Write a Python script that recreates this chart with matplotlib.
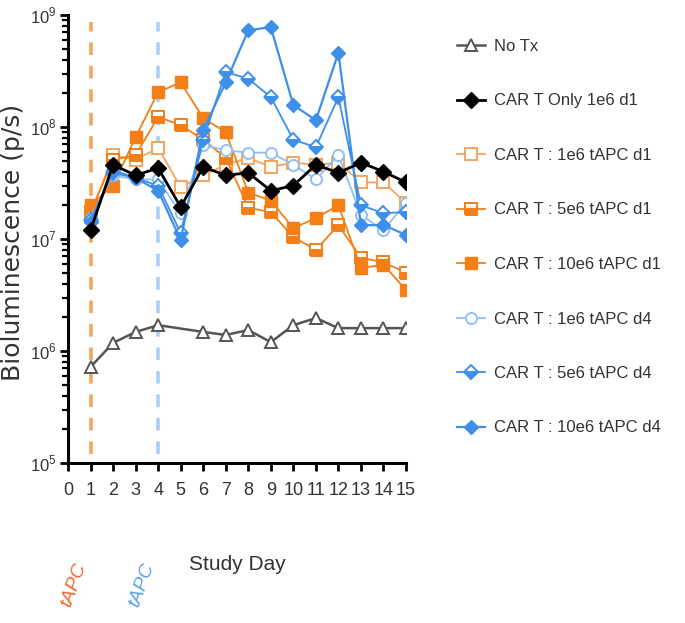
import matplotlib
matplotlib.use("Agg")
import matplotlib.pyplot as plt
import numpy as np
from matplotlib.ticker import LogLocator, NullFormatter

# ---------------- data ----------------
days = [1, 2, 3, 4, 5, 6, 7, 8, 9, 10, 11, 12, 13, 14, 15]
days_notx = [1, 2, 3, 4, 6, 7, 8, 9, 10, 11, 12, 13, 14, 15]

no_tx = [7.2e5, 1.18e6, 1.48e6, 1.7e6, 1.48e6, 1.39e6, 1.54e6, 1.2e6,
         1.7e6, 1.97e6, 1.6e6, 1.6e6, 1.6e6, 1.6e6]
cart_only = [1.2e7, 4.6e7, 3.7e7, 4.3e7, 1.93e7, 4.4e7, 3.7e7, 3.9e7,
             2.7e7, 3.0e7, 4.6e7, 3.9e7, 4.8e7, 4.0e7, 3.2e7]
tapc1_d1 = [1.64e7, 5.6e7, 5.1e7, 6.5e7, 2.9e7, 3.7e7, 4.6e7, 5.3e7,
            4.4e7, 4.8e7, 4.6e7, 4.8e7, 3.2e7, 3.2e7, 2.1e7]
tapc5_d1 = [1.74e7, 5.1e7, 5.6e7, 1.23e8, 1.04e8, 7.7e7, 5.3e7, 1.9e7,
            1.74e7, 1.04e7, 8.0e6, 1.33e7, 6.8e6, 6.2e6, 5.0e6]
tapc10_d1 = [2.0e7, 3.0e7, 8.1e7, 2.05e8, 2.5e8, 1.2e8, 9.0e7, 2.6e7,
             2.2e7, 1.25e7, 1.54e7, 2.0e7, 5.5e6, 5.9e6, 3.5e6]
tapc1_d4 = [1.54e7, 3.7e7, 3.4e7, 3.4e7, 1.7e7, 6.9e7, 6.2e7, 5.9e7,
            5.9e7, 4.6e7, 3.4e7, 5.6e7, 1.64e7, 1.2e7, 2.1e7]
tapc5_d4 = [1.48e7, 3.9e7, 3.5e7, 3.0e7, 1.13e7, 7.7e7, 3.1e8, 2.7e8,
            1.85e8, 7.7e7, 6.6e7, 1.85e8, 2.0e7, 1.7e7, 1.74e7]
tapc10_d4 = [1.42e7, 4.1e7, 3.5e7, 2.7e7, 9.8e6, 9.4e7, 2.5e8, 7.3e8,
             7.8e8, 1.57e8, 1.15e8, 4.6e8, 1.33e7, 1.33e7, 1.09e7]

labels = ["No Tx", "CAR T Only 1e6 d1", "CAR T : 1e6 tAPC d1",
          "CAR T : 5e6 tAPC d1", "CAR T : 10e6 tAPC d1",
          "CAR T : 1e6 tAPC d4", "CAR T : 5e6 tAPC d4", "CAR T : 10e6 tAPC d4"]
xticks = list(range(0, 16))
ytick_vals = [1e5, 1e6, 1e7, 1e8, 1e9]
tapc_days = [1, 4]

# ---------------- style ----------------
plt.rcParams["font.family"] = ["Liberation Sans", "DejaVu Sans"]
plt.rcParams["mathtext.fontset"] = "custom"
plt.rcParams["mathtext.rm"] = "Liberation Sans"

ORANGE = "#f57f17"
LORANGE = "#f6a35e"
BLUE = "#3d8fea"
LBLUE = "#8fc0f5"
GRAY = "#555555"
TXT = "#333333"

fig = plt.figure(figsize=(6.85, 6.23), dpi=100)
ax = fig.add_axes([68 / 685, 1 - 463 / 623, 338 / 685, 448 / 623])

ax.axvline(tapc_days[0], ymin=0.02, ymax=0.985, color="#f5a560", lw=2.6,
           ls=(0, (3.5, 3)), zorder=1)
ax.axvline(tapc_days[1], ymin=0.02, ymax=0.985, color="#a8d0f7", lw=2.6,
           ls=(0, (3.5, 3)), zorder=1)

handles = []
ms = 8
h, = ax.plot(days_notx, no_tx, color=GRAY, lw=1.8, marker="^", ms=ms,
             mfc="white", mec=GRAY, mew=1.4, zorder=3)
handles.append(h)
h, = ax.plot(days, cart_only, color="black", lw=2.0, marker="D", ms=ms,
             mfc="black", mec="black", zorder=6)
handles.append(h)
h, = ax.plot(days, tapc1_d1, color=LORANGE, lw=1.3, marker="s", ms=ms,
             mfc="white", mec=LORANGE, mew=1.4, zorder=4)
handles.append(h)
h, = ax.plot(days, tapc5_d1, color=ORANGE, lw=1.3, marker="s", ms=ms,
             fillstyle="bottom", mfc=ORANGE, mfcalt="white", mec=ORANGE,
             mew=1.4, zorder=4)
handles.append(h)
h, = ax.plot(days, tapc10_d1, color=ORANGE, lw=1.3, marker="s", ms=ms,
             mfc=ORANGE, mec=ORANGE, zorder=4)
handles.append(h)
h, = ax.plot(days, tapc1_d4, color=LBLUE, lw=1.3, marker="o", ms=ms,
             mfc="white", mec=LBLUE, mew=1.4, zorder=4)
handles.append(h)
h, = ax.plot(days, tapc5_d4, color=BLUE, lw=1.3, marker="D", ms=ms - 1,
             fillstyle="bottom", mfc=BLUE, mfcalt="white", mec=BLUE,
             mew=1.4, zorder=4)
handles.append(h)
h, = ax.plot(days, tapc10_d4, color=BLUE, lw=1.6, marker="D", ms=ms - 1,
             mfc=BLUE, mec=BLUE, zorder=5)
handles.append(h)

ax.set_yscale("log")
ax.set_ylim(1e5, 1e9)
ax.set_xlim(0, 15)
ax.set_xticks(xticks)
ax.set_xticklabels([str(t) for t in xticks], fontsize=13, color=TXT)
ax.set_yticks(ytick_vals)
ax.set_yticklabels([r"$10^{%d}$" % int(np.log10(v)) for v in ytick_vals],
                   fontsize=12, color=TXT)
ax.yaxis.set_minor_locator(LogLocator(base=10, subs=np.arange(2, 10)))
ax.yaxis.set_minor_formatter(NullFormatter())
ax.tick_params(axis="both", which="major", direction="out", length=6,
               width=2, color="black")
ax.tick_params(axis="y", which="minor", direction="out", length=4, width=1.6)
ax.tick_params(axis="y", pad=2)
ax.tick_params(axis="x", pad=8)
for s in ["top", "right"]:
    ax.spines[s].set_visible(False)
for s in ["left", "bottom"]:
    ax.spines[s].set_linewidth(2.2)

fig.text(13 / 685, 1 - 242 / 623, "Bioluminescence (p/s)", rotation=90,
         fontsize=18, family="DejaVu Sans", color=TXT,
         ha="center", va="center")
ax.set_xlabel("Study Day", fontsize=15, color=TXT, labelpad=40)

fig.text(74 / 685, 1 - 585 / 623, "tAPC", rotation=70, color="#f06a2a",
         fontsize=14, style="italic", ha="center", va="center")
fig.text(142 / 685, 1 - 585 / 623, "tAPC", rotation=70, color="#5aa0f0",
         fontsize=14, style="italic", ha="center", va="center")

fig.legend(handles, labels, loc="upper left",
           bbox_to_anchor=(442 / 685, 1 - 24 / 623), frameon=False,
           fontsize=12, labelspacing=2.37, handlelength=1.7,
           handletextpad=0.5, labelcolor=TXT)

fig.savefig("out.png", dpi=100)
